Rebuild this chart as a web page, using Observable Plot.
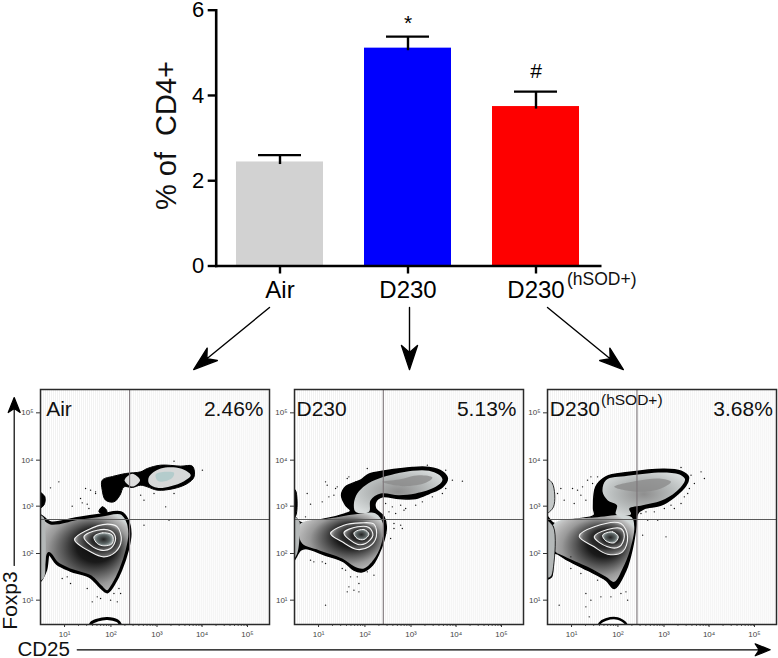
<!DOCTYPE html>
<html>
<head>
<meta charset="utf-8">
<script src="https://cdn.jsdelivr.net/npm/d3@7"></script>
<script src="https://cdn.jsdelivr.net/npm/@observablehq/plot@0.6"></script>
<style>
html,body{margin:0;padding:0;background:#fff}
#page{position:relative;width:778px;height:658px;overflow:hidden;font-family:"Liberation Sans",Arial,sans-serif}
#page svg.layer{position:absolute}
</style>
</head>
<body>
<div id="page"></div>
<script>
// ---- bar chart data ----
const groups = ["Air", "D230", "D230 (hSOD+)"];
const groupTicks = ["Air", "D230", "D230"];
const means = [2.44, 5.11, 3.74];
const errorTops = [2.60, 5.38, 4.09];
const barColors = ["#d2d2d2", "#0000fe", "#fe0000"];
const sigLabels = ["", "*", "#"];
const sigHeights = [0, 5.70, 4.57];

// ---- flow panels: x/y in display channels ----
const decadeX = [72, 211, 349, 484, 620];
const decadeY = [73, 213, 355, 493, 635];
const decadeLabels = ["10¹", "10²", "10³", "10⁴", "10⁵"];
const minorFactors = [2, 3, 4, 5, 6, 7, 8, 9];

const airMain = [[-6,328],[30,305],[110,318],[180,328],[240,335],[260,313],[268,273],[260,223],[240,163],[220,123],[200,98],[180,113],[150,143],[90,163],[50,183],[25,213],[15,163],[-6,128]];
const airRing1 = [[102,255],[140,283],[200,301],[230,293],[242,253],[225,218],[190,203],[150,218]];
const airRing2 = [[130,263],[170,283],[210,281],[225,258],[210,228],[180,223],[150,238]];
const airRing3 = [[160,263],[185,275],[215,268],[215,243],[190,236],[170,243]];
const airStrip = [[-6,328],[10,320],[15,270],[15,190],[10,140],[-6,130]];
const airBump = [[-6,398],[13,383],[10,358],[-6,348]];
const airUpper = [[185,433],[220,445],[255,453],[300,458],[320,468],[360,478],[420,475],[455,475],[460,443],[440,423],[400,408],[350,403],[320,413],[300,418],[275,411],[250,413],[238,388],[220,368],[195,373],[185,403]];
const airLight1 = [[252,433],[275,452],[298,433],[275,414]];
const airLight2 = [[325,443],[360,468],[420,468],[450,448],[430,430],[390,415],[350,410],[325,423]];
const airCore = [[345,450],[375,458],[400,455],[395,440],[365,428],[350,432]];
const airTop = [[175,338],[185,353],[198,343],[198,330]];
const airBottom = [[150,-8],[152,4],[170,13],[200,18],[230,11],[238,2],[238,-8]];
const airSpecks = [[30,410],[55,428],[135,408],[150,403],[165,393],[120,378],[125,365],[95,355],[140,361],[145,348],[165,398],[300,388],[310,373],[340,393],[375,353],[400,393],[485,463],[400,490],[310,298],[385,313],[90,123],[65,138],[155,68],[170,83],[220,93],[235,108],[240,93],[230,68],[210,73],[140,108],[180,78],[80,143]];

const d230Outer = [[-6,328],[20,305],[83,315],[148,331],[168,341],[153,358],[141,388],[153,413],[198,433],[223,451],[273,461],[353,471],[403,471],[443,458],[458,438],[443,413],[403,393],[363,378],[313,378],[263,383],[243,368],[243,348],[268,323],[275,293],[268,253],[253,213],[233,178],[203,158],[178,163],[148,188],[93,208],[33,228],[18,223],[-6,188]];
const d230Upper = [[188,393],[213,418],[253,438],[353,461],[403,461],[438,445],[443,433],[423,413],[363,393],[313,388],[258,393],[228,373],[223,338],[183,338],[178,363]];
const d230Core = [[263,428],[313,435],[373,448],[413,441],[393,425],[323,415]];
const d230Main = [[18,303],[103,318],[183,331],[243,333],[265,303],[263,253],[243,203],[208,168],[178,175],[143,198],[73,223],[23,243],[13,273]];
const d230Ring1 = [[108,273],[148,298],[198,305],[238,301],[245,263],[223,233],[188,225],[143,248]];
const d230Ring2 = [[148,275],[188,293],[223,291],[235,268],[213,243],[188,241]];
const d230Ring3 = [[178,275],[208,285],[223,271],[208,255],[188,258]];
const d230Strip = [[-6,323],[13,313],[15,263],[8,213],[-6,193]];
const d230Edge = [[-6,403],[3,403],[3,325],[-6,325]];
const d230Specks = [[93,428],[98,418],[123,408],[128,413],[118,388],[103,383],[83,368],[48,361],[33,323],[38,393],[163,443],[158,438],[218,468],[173,423],[183,428],[48,193],[58,188],[83,188],[93,183],[143,168],[153,163],[168,143],[188,143],[238,148],[218,158],[163,113],[158,98],[193,123],[178,103],[193,98],[93,58],[273,363],[293,353],[318,358],[333,348],[283,338],[303,333],[328,343],[363,358],[383,368],[413,383],[443,393],[453,408],[473,433],[503,430],[398,478],[453,463],[298,303],[298,288],[323,288],[318,298],[288,258],[273,273]];

const sodOuter = [[-6,328],[20,303],[80,315],[140,328],[138,348],[145,413],[175,443],[240,456],[350,466],[400,460],[422,443],[415,418],[380,383],[340,358],[290,348],[270,333],[265,293],[255,233],[235,163],[200,108],[175,133],[120,163],[60,193],[20,213],[12,143],[-6,138]];
const sodUpper = [[175,433],[240,446],[350,456],[400,448],[412,435],[385,398],[340,371],[285,358],[245,348],[250,331],[205,331],[208,358],[180,373],[165,398]];
const sodCore = [[200,413],[270,431],[335,438],[370,428],[340,408],[270,398]];
const sodMain = [[18,301],[140,321],[250,323],[260,293],[247,223],[225,168],[200,128],[175,143],[120,173],[50,205],[20,223]];
const sodRing1 = [[95,265],[140,293],[220,303],[240,263],[225,218],[180,211],[140,233]];
const sodRing2 = [[140,263],[180,285],[220,288],[230,263],[215,233],[180,233]];
const sodRing3 = [[165,268],[195,278],[212,263],[200,245],[175,251]];
const sodStrip = [[-6,313],[18,293],[18,173],[10,143],[-6,141]];
const sodStripTop = [[-6,438],[15,423],[18,353],[-6,333]];
const sodBottom = [[155,-8],[157,4],[175,15],[210,18],[235,2],[235,-8]];
const sodSpecks = [[40,408],[75,408],[90,403],[105,413],[120,433],[130,443],[135,423],[100,388],[115,373],[80,363],[50,373],[30,393],[150,443],[140,383],[70,168],[100,153],[140,158],[150,133],[115,93],[130,73],[160,83],[190,83],[240,73],[235,98],[220,93],[35,58],[115,53],[125,23],[70,203],[280,333],[295,338],[320,338],[350,348],[380,348],[400,363],[420,393],[440,423],[430,448],[470,438],[400,471],[460,458],[285,268],[355,263],[300,313],[330,313],[370,358],[410,383],[425,408]];

const gates = [
  {name: "Air", nameAt: 17, pct: "2.46%", pctAt: 668, gx: 267, gy: 315},
  {name: "D230", nameAt: 6, pct: "5.13%", pctAt: 665, gx: 266, gy: 315},
  {name: "D230", nameAt: 7, pct: "3.68%", pctAt: 675, gx: 268, gy: 315}
];

const FONT = '"Liberation Sans", Arial, sans-serif';
const page = document.getElementById("page");
function place(svg, left, top) {
  svg.classList.add("layer");
  svg.style.left = left + "px";
  svg.style.top = top + "px";
  page.appendChild(svg);
}

// gradient definitions
const defs = d3.select(page).append("svg").attr("width", 0).attr("height", 0).style("position", "absolute").append("defs");
function radial(id, attrs, stops) {
  const g = defs.append("radialGradient").attr("id", id);
  Object.entries(attrs).forEach(([k, v]) => g.attr(k, v));
  stops.forEach(([o, c]) => g.append("stop").attr("offset", o).attr("stop-color", c));
}
radial("mainGrad", {cx: .5, cy: .55, r: .62, fx: .72, fy: .35}, [[0, "#000"], [.34, "#1a1a1a"], [.5, "#555"], [.7, "#999"], [.9, "#bdbdbd"], [1, "#d0d6d6"]]);
radial("ringGrad", {cx: .55, cy: .5, r: .55}, [[0, "#111"], [.55, "#2a2a2a"], [.85, "#666"], [1, "#aaa"]]);
radial("coreGrad", {cx: .5, cy: .5, r: .55}, [[0, "#222"], [.6, "#5c6565"], [1, "#b8c4c4"]]);
radial("upperGrad", {cx: .5, cy: .5, r: .6}, [[0, "#8e8e8e"], [.6, "#b8bcbc"], [1, "#d8dcdc"]]);

// ---- bar chart ----
const barRows = groups.map((g, i) => ({g, tick: groupTicks[i], mean: means[i], top: errorTops[i], color: barColors[i], sig: sigLabels[i], sigY: sigHeights[i]}));
const barPlot = Plot.plot({
  width: 778, height: 330,
  marginLeft: 215.7, marginRight: 178.3, marginTop: 9.7, marginBottom: 64.5,
  style: {fontFamily: FONT, background: "transparent", overflow: "visible"},
  x: {type: "band", domain: groups, paddingInner: 0.318, paddingOuter: 0.159, label: null},
  y: {domain: [0, 6], label: null},
  marks: [
    Plot.barY(barRows, {x: "g", y: "mean", fill: d => d.color}),
    Plot.ruleX(barRows, {x: "g", y1: d => d.mean - 0.06, y2: "top", stroke: "#000", strokeWidth: 2.4}),
    Plot.tickY(barRows, {x: "g", y: "top", stroke: "#000", strokeWidth: 2.4, insetLeft: 22, insetRight: 22}),
    Plot.frame({anchor: "left", stroke: "#000", strokeWidth: 2.6}),
    Plot.frame({anchor: "bottom", stroke: "#000", strokeWidth: 2.6}),
    Plot.axisY({ticks: [0, 2, 4, 6], tickFormat: d => String(d), tickSize: 8, tickPadding: 4, fontSize: 22, stroke: "#000", strokeWidth: 2.4, fill: "#000", label: null}),
    Plot.axisX({tickSize: 8, tickPadding: 7, fontSize: 24, stroke: "#000", strokeWidth: 2.4, fill: "#000", label: null,
      tickFormat: d => groupTicks[groups.indexOf(d)]}),
    Plot.text(barRows.filter(d => d.sig), {x: "g", y: "sigY", text: "sig", fontSize: 21, fill: "#000"})
  ]
});
place(barPlot, 0, 0);

// ---- flow panels ----
const minorX = decadeX.slice(0, 4).flatMap(c => minorFactors.map(f => c + (decadeX[1] - decadeX[0]) * Math.log10(f)));
const grid = d3.range(3, 686, 6);

function blob(data, o) {
  return Plot.line(data, {x: d => d[0], y: d => d[1], curve: "catmull-rom-closed", clip: "frame", strokeLinejoin: "round", ...o});
}
function flowPanel(left, gate, layers, specks) {
  const ml = 30, mt = 5, w = 229, h = 235;
  const svg = Plot.plot({
    width: w + ml + 2, height: h + mt + 28,
    marginLeft: ml, marginRight: 2, marginTop: mt, marginBottom: 28,
    style: {fontFamily: FONT, background: "transparent", overflow: "visible"},
    x: {domain: [0, 686], label: null},
    y: {domain: [0, 705], label: null},
    marks: [
      Plot.ruleX(grid, {stroke: "#f2f2f2", strokeWidth: 1}),
      ...layers,
      Plot.dot(specks, {x: d => d[0], y: d => d[1], r: 0.7, fill: "#111", stroke: "none", clip: "frame"}),
      Plot.ruleX([gate.gx], {stroke: "#7d767a", strokeWidth: 1.1}),
      Plot.ruleY([gate.gy], {stroke: "#5a5a5a", strokeWidth: 1}),
      Plot.frame({stroke: "#2a2a2a", strokeWidth: 1.5}),
      Plot.ruleX(minorX, {y1: () => 0, y2: () => -6, stroke: "#333", strokeWidth: 0.8}),
      Plot.axisX({ticks: decadeX, tickSize: 3, tickPadding: 4, fontSize: 8, stroke: "#333", fill: "#444",
        tickFormat: d => decadeLabels[decadeX.indexOf(d)], label: null}),
      Plot.axisY({ticks: decadeY, tickSize: 4, tickPadding: 3, fontSize: 8, stroke: "#333", fill: "#444",
        tickFormat: d => decadeLabels[decadeY.indexOf(d)], label: null}),
      Plot.text([gate.name], {x: () => gate.nameAt, y: () => 646, textAnchor: "start", fontSize: 21, fill: "#111"}),
      Plot.text([gate.pct], {x: () => gate.pctAt, y: () => 646, textAnchor: "end", fontSize: 21, fill: "#111"})
    ]
  });
  place(svg, left - ml, 389.3 - mt);
}
const black = {fill: "#000", stroke: "#000", strokeWidth: 1};
const ringSet = (r1, r2, r3) => [
  blob(r1, {fill: "url(#ringGrad)", stroke: "#f4f4f4", strokeWidth: 1.1}),
  blob(r2, {fill: "url(#ringGrad)", stroke: "#f4f4f4", strokeWidth: 1.1}),
  blob(r3, {fill: "url(#coreGrad)", stroke: "#f4f4f4", strokeWidth: 1})
];

flowPanel(40, gates[0], [
  blob(airUpper, black),
  blob(airLight1, {fill: "#dcdcdc", stroke: "none"}),
  blob(airLight2, {fill: "#d6d8d8", stroke: "none"}),
  blob(airCore, {fill: "#b4cccc", stroke: "none"}),
  blob(airTop, black),
  blob(airBump, black),
  blob(airBottom, {fill: "#fff", stroke: "#000", strokeWidth: 3}),
  blob(airMain, {fill: "url(#mainGrad)", stroke: "#000", strokeWidth: 3.2}),
  blob(airStrip, {fill: "#b4b8b8", stroke: "none"}),
  ...ringSet(airRing1, airRing2, airRing3)
], airSpecks);

flowPanel(294, gates[1], [
  blob(d230Edge, black),
  blob(d230Outer, {fill: "#000", stroke: "#000", strokeWidth: 1.5}),
  blob(d230Upper, {fill: "url(#upperGrad)", stroke: "none"}),
  blob(d230Core, {fill: "#8c8c8c", fillOpacity: 0.8, stroke: "none"}),
  blob(d230Main, {fill: "url(#mainGrad)", stroke: "none"}),
  blob(d230Strip, {fill: "#b4b8b8", stroke: "none"}),
  ...ringSet(d230Ring1, d230Ring2, d230Ring3)
], d230Specks);

flowPanel(546.7, gates[2], [
  blob(sodOuter, {fill: "#000", stroke: "#000", strokeWidth: 1.5}),
  blob(sodUpper, {fill: "url(#upperGrad)", stroke: "none"}),
  blob(sodCore, {fill: "#8c8c8c", fillOpacity: 0.8, stroke: "none"}),
  blob(sodMain, {fill: "url(#mainGrad)", stroke: "none"}),
  blob(sodStrip, {fill: "#b4b8b8", stroke: "#000", strokeWidth: 0.8}),
  blob(sodStripTop, {fill: "#c4c8c8", stroke: "#000", strokeWidth: 0.8}),
  blob(sodBottom, {fill: "#fff", stroke: "#000", strokeWidth: 2.5}),
  ...ringSet(sodRing1, sodRing2, sodRing3)
], sodSpecks);

// ---- annotation overlay: page-scale arrows and labels ----
function stealth(head, half, notch) {
  return {
    draw(ctx, l) {
      ctx.moveTo(0, 0);
      ctx.lineTo(0, -l + notch);
      ctx.moveTo(0, -l);
      ctx.lineTo(half, -l + head);
      ctx.lineTo(0, -l + notch);
      ctx.lineTo(-half, -l + head);
      ctx.closePath();
    }
  };
}
const bigArrows = [
  {x: 269, y: 307, length: 98, rotate: -129.3},
  {x: 409, y: 307, length: 62, rotate: 180},
  {x: 547, y: 307, length: 98, rotate: 129.3}
];
const axisArrows = [
  {x: 13.7, y: 565, length: 168, rotate: 0},
  {x: 76.7, y: 649.3, length: 693, rotate: 90}
];
const notes = [
  {t: "% of  CD4+", x: 166, y: 135, size: 29, rotate: -90, anchor: "middle"},
  {t: "(hSOD+)", x: 566.5, y: 279, size: 17.5, rotate: 0, anchor: "start"},
  {t: "(hSOD+)", x: 600.5, y: 399.5, size: 15.5, rotate: 0, anchor: "start"},
  {t: "Foxp3", x: 10, y: 600, size: 21, rotate: -90, anchor: "middle"},
  {t: "CD25", x: 17, y: 648.5, size: 20.5, rotate: 0, anchor: "start"}
];
const overlay = Plot.plot({
  width: 778, height: 658, margin: 0,
  style: {fontFamily: FONT, background: "transparent", overflow: "visible"},
  x: {domain: [0, 778], axis: null},
  y: {domain: [0, 658], reverse: true, axis: null},
  length: {type: "identity"},
  marks: [
    Plot.vector(bigArrows, {x: "x", y: "y", length: "length", rotate: "rotate", anchor: "start", shape: stealth(24, 8, 17), fill: "#000", stroke: "#000", strokeWidth: 1.4}),
    Plot.vector(axisArrows, {x: "x", y: "y", length: "length", rotate: "rotate", anchor: "start", shape: stealth(15, 6, 11), fill: "#000", stroke: "#000", strokeWidth: 1.2}),
    ...notes.map(n => Plot.text([n], {x: "x", y: "y", text: "t", fontSize: n.size, rotate: n.rotate, textAnchor: n.anchor, fill: "#111"}))
  ]
});
place(overlay, 0, 0);
</script>
</body>
</html>
